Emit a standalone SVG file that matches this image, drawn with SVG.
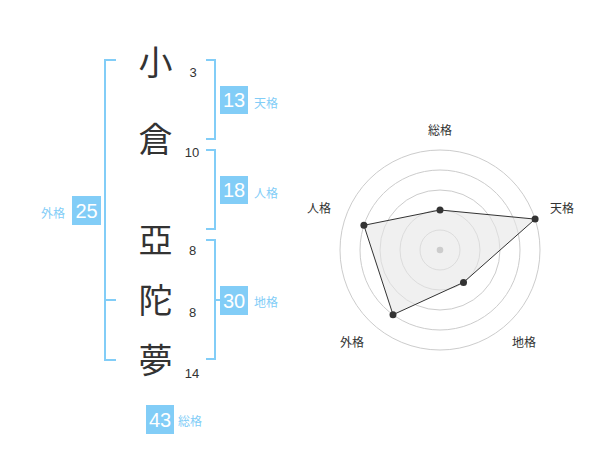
<svg xmlns="http://www.w3.org/2000/svg" width="600" height="470" viewBox="0 0 600 470">
<style>
.kanji{font-family:"Noto Sans CJK JP","Noto Sans CJK SC",sans-serif;font-size:34px;fill:#333;text-anchor:middle}
.stroke{font-family:"Liberation Sans",Arial,sans-serif;font-size:13px;fill:#333;text-anchor:middle}
.br{fill:none;stroke:#82cdf7;stroke-width:2}
.box{fill:#82cdf7}
.num{font-family:"Liberation Sans",Arial,sans-serif;font-size:20px;fill:#fff;text-anchor:middle}
.lab{font-family:"Noto Sans CJK JP",sans-serif;font-size:12px;fill:#82cdf7}
.rlab{font-family:"Noto Sans CJK JP",sans-serif;font-size:12px;fill:#333;text-anchor:middle}
.ring{fill:none;stroke:#ccc;stroke-width:1}
.pt{fill:#333}
</style>
<rect width="600" height="470" fill="#fff"/>
<g id="chars">
<text class="kanji" x="155.5" y="75">小</text>
<text class="kanji" x="155.5" y="152">倉</text>
<text class="kanji" x="155.5" y="253">亞</text>
<text class="kanji" x="155.5" y="313">陀</text>
<text class="kanji" x="155.5" y="373">夢</text>
<text class="stroke" x="193" y="77">3</text>
<text class="stroke" x="192" y="157">10</text>
<text class="stroke" x="192.5" y="255">8</text>
<text class="stroke" x="192.5" y="317">8</text>
<text class="stroke" x="192" y="378">14</text>
</g>
<g id="connectors">
<path class="br" d="M116,60 H105 V360 H116 M105,300 H116"/>
<path class="br" d="M206,60 H215 V139 H206"/>
<path class="br" d="M206,150 H215 V229 H206"/>
<path class="br" d="M206,240 H215 V359 H206 M215,300 H220"/>
</g>
<g id="tenkaku">
<rect class="box" x="220" y="86" width="28" height="28"/>
<text class="num" x="234" y="107">13</text>
<text class="lab" x="254" y="107.5">天格</text>
</g>
<g id="jinkaku">
<rect class="box" x="220" y="176" width="28" height="28"/>
<text class="num" x="234" y="197">18</text>
<text class="lab" x="254" y="197.5">人格</text>
</g>
<g id="chikaku">
<rect class="box" x="220" y="286" width="28" height="29"/>
<text class="num" x="234" y="307.5">30</text>
<text class="lab" x="254" y="307">地格</text>
</g>
<g id="gaikaku">
<rect class="box" x="72" y="196" width="29" height="29"/>
<text class="num" x="86.5" y="217.5">25</text>
<text class="lab" x="65" y="217.5" text-anchor="end">外格</text>
</g>
<g id="soukaku">
<rect class="box" x="146" y="405" width="28" height="29"/>
<text class="num" x="160" y="426.5">43</text>
<text class="lab" x="178" y="426">総格</text>
</g>
<g id="radar">
<circle class="ring" cx="440" cy="250" r="20"/>
<circle class="ring" cx="440" cy="250" r="40"/>
<circle class="ring" cx="440" cy="250" r="60"/>
<circle class="ring" cx="440" cy="250" r="80"/>
<circle class="ring" cx="440" cy="250" r="100"/>
<polygon points="440,210 535.1,219.1 463.5,282.4 393,314.7 363.9,225.3" fill="#e6e6e6" fill-opacity="0.6" stroke="#333" stroke-width="1"/>
<circle cx="440" cy="250" r="3.3" fill="#ccc"/>
<circle class="pt" cx="440" cy="210" r="3.5"/>
<circle class="pt" cx="535.1" cy="219.1" r="3.5"/>
<circle class="pt" cx="463.5" cy="282.4" r="3.5"/>
<circle class="pt" cx="393" cy="314.7" r="3.5"/>
<circle class="pt" cx="363.9" cy="225.3" r="3.5"/>
<text class="rlab" x="440" y="134.5">総格</text>
<text class="rlab" x="562" y="212.5">天格</text>
<text class="rlab" x="319" y="212.5">人格</text>
<text class="rlab" x="352" y="346.5">外格</text>
<text class="rlab" x="524" y="346.5">地格</text>
</g>
</svg>
